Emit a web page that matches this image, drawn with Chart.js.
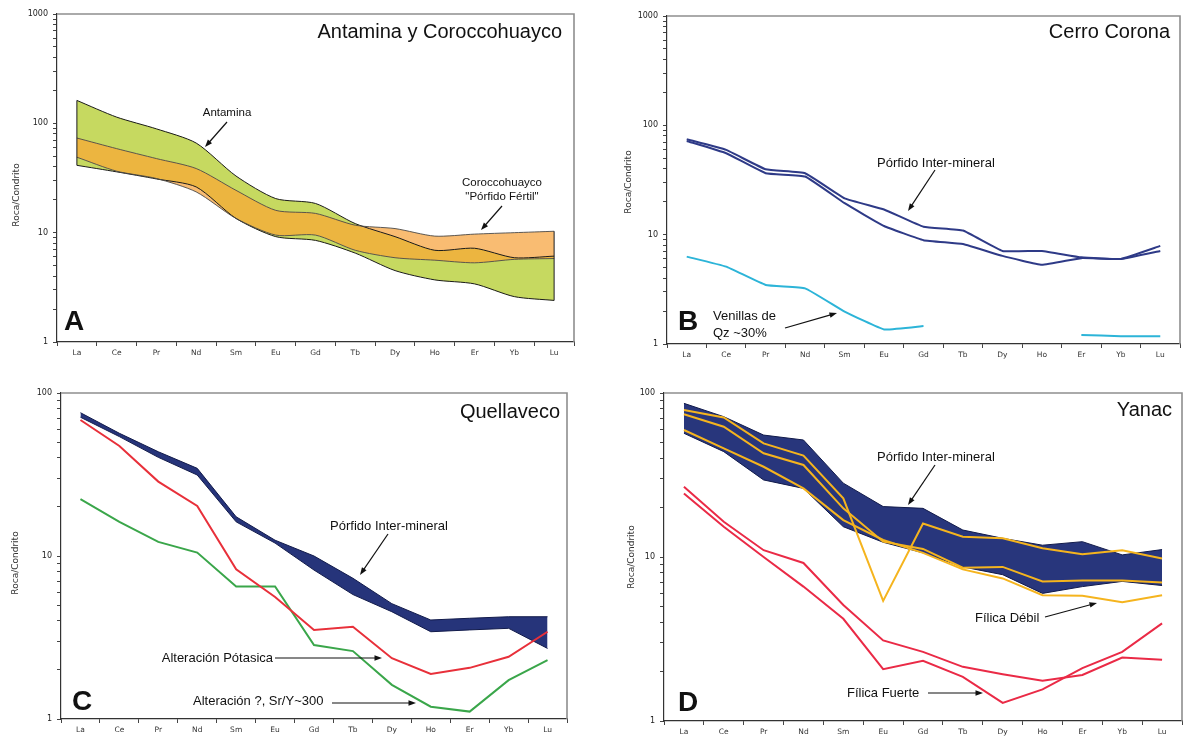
<!DOCTYPE html>
<html>
<head>
<meta charset="utf-8">
<script src="https://cdn.jsdelivr.net/npm/chart.js@4.4.0/dist/chart.umd.min.js"></script>
<style>
  body { margin: 0; background: #fff; width: 1184px; height: 740px; overflow: hidden; position: relative; }
  canvas { position: absolute; }
</style>
</head>
<body>
<canvas id="chart-a" width="590" height="370" style="left:0;top:0"></canvas>
<canvas id="chart-b" width="594" height="370" style="left:590px;top:0"></canvas>
<canvas id="chart-c" width="590" height="370" style="left:0;top:370px"></canvas>
<canvas id="chart-d" width="594" height="370" style="left:590px;top:370px"></canvas>
<script>
const elements = ["La", "Ce", "Pr", "Nd", "Sm", "Eu", "Gd", "Tb", "Dy", "Ho", "Er", "Yb", "Lu"];
const yLabelsAB = [1, 10, 100, 1000];
const yLabelsCD = [1, 10, 100];

// A - Antamina y Coroccohuayco (bandas)
const antaminaMax = [162, 114, 89, 66, 33, 20.5, 18.5, 12.1, 9.2, 6.9, 7.2, 5.9, 6.1];
const antaminaMin = [41.3, 36, 31, 26.2, 13.5, 9.2, 8.5, 6.5, 4.5, 3.7, 3.4, 2.6, 2.4];
const coroccoMax = [73.4, 58.7, 47.6, 38.6, 24.4, 16, 15, 11.7, 10.9, 9.3, 9.7, 10, 10.3];
const coroccoMin = [49, 36.5, 31.3, 23.6, 13.5, 9.5, 9.5, 6.9, 5.9, 5.6, 5.3, 5.7, 5.8];

// B - Cerro Corona
const coronaPorfido1 = [74.6, 59.6, 39.6, 36.5, 21.5, 17, 11.8, 10.9, 7.1, 7.1, 6.2, 6.0, 7.1];
const coronaPorfido2 = [72, 55.6, 36.5, 34, 19.4, 12, 8.9, 8.2, 6.4, 5.3, 6.1, 6.0, 7.9];
const coronaVenillas = [6.3, 5.1, 3.47, 3.23, 1.98, 1.36, 1.46, null, null, null, 1.21, 1.18, 1.18];

// C - Quellaveco
const quePorfidoMax = [75.7, 56.6, 43.6, 34.5, 17.4, 12.5, 10.0, 7.3, 5.1, 4.05, 4.15, 4.24, 4.24];
const quePorfidoMin = [71, 54, 40.3, 31.4, 16.2, 12.0, 8.2, 5.8, 4.55, 3.43, 3.52, 3.6, 2.71];
const quePotasica = [68.3, 47.3, 28.6, 20.3, 8.3, 5.6, 3.52, 3.68, 2.36, 1.89, 2.06, 2.41, 3.43];
const queSrY = [22.3, 16.2, 12.2, 10.5, 6.5, 6.5, 2.84, 2.61, 1.62, 1.19, 1.11, 1.73, 2.3];

// D - Yanac
const yanPorfidoMax = [86.5, 71.7, 55.4, 51.7, 28.2, 20.3, 19.8, 14.6, 13.0, 11.8, 12.4, 10.3, 11.1];
const yanPorfidoMin = [56.8, 43.9, 29.5, 26.2, 15.3, 12.3, 10.6, 8.7, 7.8, 6.0, 6.6, 7.1, 6.7];
const yanDebil1 = [78.8, 71, 49.3, 41.5, 22.8, 5.4, 16.0, 13.3, 13.0, 11.3, 10.4, 11.0, 9.8];
const yanDebil2 = [74.2, 62.3, 42.9, 36.4, 19.8, 12.4, 11.2, 8.6, 8.7, 7.1, 7.2, 7.2, 7.0];
const yanDebil3 = [59.5, 46, 35.5, 26.2, 16.8, 12.7, 10.6, 8.4, 7.4, 5.85, 5.8, 5.3, 5.85];
const yanFuerte1 = [26.8, 16.4, 11.0, 9.2, 5.1, 3.1, 2.64, 2.14, 1.93, 1.76, 1.91, 2.44, 2.36];
const yanFuerte2 = [24.4, 15.3, 10.0, 6.6, 4.2, 2.07, 2.33, 1.86, 1.29, 1.56, 2.1, 2.64, 3.94];

const overlapTop = antaminaMax.map((v, i) => Math.min(v, coroccoMax[i]));
const overlapBottom = antaminaMin.map((v, i) => Math.max(v, coroccoMin[i]));

const SANS = "'Liberation Sans', Arial, sans-serif";
const SMALL = "'DejaVu Sans', sans-serif";

function line(data, color, width, tension = 0) {
  return { data, borderColor: color, borderWidth: width, pointRadius: 0, fill: false, tension };
}

function band(upper, lower, fillColor, edgeColor, edgeWidth, tension = 0) {
  return [
    { data: upper, borderColor: edgeColor, borderWidth: edgeWidth, backgroundColor: fillColor, fill: "+1", pointRadius: 0, tension },
    { data: lower, borderColor: edgeColor, borderWidth: edgeWidth, fill: false, pointRadius: 0, tension },
  ];
}

function axes(yMax, yLabels, yWidth, xHeight) {
  return {
    x: {
      type: "category",
      offset: true,
      grid: { offset: true, drawOnChartArea: false, tickLength: 4, color: "#444" },
      border: { color: "#333", width: 1.2 },
      ticks: { font: { family: SMALL, size: 7.5 }, color: "#333", padding: 3, autoSkip: false, maxRotation: 0 },
      afterFit: (s) => { s.height = xHeight; },
    },
    y: {
      type: "logarithmic",
      min: 1,
      max: yMax,
      grid: { drawOnChartArea: false, tickLength: 4, color: "#444" },
      border: { color: "#333", width: 1.2 },
      ticks: {
        autoSkip: false,
        padding: 5,
        font: { family: SMALL, size: 8 },
        color: "#222",
        callback: (v) => (yLabels.includes(v) ? String(v) : ""),
      },
      afterBuildTicks: (s) => {
        const vals = [];
        for (let d = 1; d < yMax; d *= 10) for (let k = 1; k < 10; k++) vals.push(d * k);
        vals.push(yMax);
        s.ticks = vals.map((value) => ({ value }));
      },
      afterFit: (s) => { s.width = yWidth; },
    },
  };
}

function arrow(ctx, x1, y1, x2, y2) {
  const ang = Math.atan2(y2 - y1, x2 - x1);
  const h = 8;
  ctx.beginPath();
  ctx.moveTo(x1, y1);
  ctx.lineTo(x2 - Math.cos(ang) * 4, y2 - Math.sin(ang) * 4);
  ctx.stroke();
  ctx.beginPath();
  ctx.moveTo(x2, y2);
  ctx.lineTo(x2 - h * Math.cos(ang - 0.35), y2 - h * Math.sin(ang - 0.35));
  ctx.lineTo(x2 - h * Math.cos(ang + 0.35), y2 - h * Math.sin(ang + 0.35));
  ctx.closePath();
  ctx.fill();
}

function decor(cfg) {
  return {
    id: "decor",
    afterDatasetsDraw(chart) {
      // close the ends of the bands with a vertical edge
      if (!cfg.edges) return;
      const ctx = chart.ctx;
      ctx.save();
      ctx.strokeStyle = "#1a1a1a";
      ctx.lineWidth = 1;
      [0, elements.length - 1].forEach((idx) => {
        const pts = cfg.edges.map((i) => chart.getDatasetMeta(i).data[idx]);
        const ys = pts.map((p) => p.y);
        ctx.beginPath();
        ctx.moveTo(pts[0].x, Math.min(...ys));
        ctx.lineTo(pts[0].x, Math.max(...ys));
        ctx.stroke();
      });
      ctx.restore();
    },
    afterDraw(chart) {
      const ctx = chart.ctx;
      const a = chart.chartArea;
      ctx.save();
      ctx.strokeStyle = "#8e8e8e";
      ctx.lineWidth = 1.6;
      ctx.beginPath();
      ctx.moveTo(a.left, a.top);
      ctx.lineTo(a.right, a.top);
      ctx.lineTo(a.right, a.bottom);
      ctx.stroke();

      ctx.fillStyle = "#111";
      ctx.textBaseline = "middle";
      ctx.font = "20px " + SANS;
      ctx.textAlign = "right";
      ctx.fillText(cfg.title[0], cfg.title[1], cfg.title[2]);

      ctx.font = "bold 28px " + SANS;
      ctx.textAlign = "left";
      ctx.fillText(cfg.letter[0], cfg.letter[1], cfg.letter[2]);

      ctx.save();
      ctx.translate(cfg.yTitle[0], cfg.yTitle[1]);
      ctx.rotate(-Math.PI / 2);
      ctx.font = "9px " + SMALL;
      ctx.fillStyle = "#333";
      ctx.textAlign = "center";
      ctx.fillText("Roca/Condrito", 0, 0);
      ctx.restore();

      cfg.notes.forEach(([text, x, y, align, size]) => {
        ctx.font = size + "px " + SANS;
        ctx.textAlign = align;
        ctx.fillStyle = "#111";
        ctx.fillText(text, x, y);
      });

      ctx.strokeStyle = "#111";
      ctx.fillStyle = "#111";
      ctx.lineWidth = 1.2;
      cfg.arrows.forEach(([x1, y1, x2, y2]) => arrow(ctx, x1, y1, x2, y2));
      ctx.restore();
    },
  };
}

function makeChart(id, datasets, scales, padding, cfg) {
  return new Chart(document.getElementById(id), {
    type: "line",
    data: { labels: elements, datasets },
    options: {
      responsive: false,
      animation: false,
      layout: { padding },
      plugins: { legend: { display: false }, tooltip: { enabled: false }, filler: { drawTime: "beforeDatasetsDraw" } },
      scales,
    },
    plugins: [decor(cfg)],
  });
}

// A
makeChart(
  "chart-a",
  [
    ...band(overlapTop, overlapBottom, "#ecb540", "rgba(0,0,0,0)", 1, 0.25),
    ...band(coroccoMax, coroccoMin, "#f9bc72", "#4a4a4a", 0.9, 0.25),
    ...band(antaminaMax, antaminaMin, "#c6d960", "#1a1a1a", 1, 0.25),
  ],
  axes(1000, yLabelsAB, 57, 28),
  { left: 0, top: 14, right: 16, bottom: 0 },
  {
    title: ["Antamina y Coroccohuayco", 562, 32],
    letter: ["A", 64, 322],
    yTitle: [17, 195],
    edges: [2, 3, 4, 5],
    notes: [
      ["Antamina", 227, 113, "center", 11.5],
      ["Coroccohuayco", 502, 183, "center", 11.5],
      ["\"Pórfido Fértil\"", 502, 197, "center", 11.5],
    ],
    arrows: [
      [227, 122, 205, 147],
      [502, 206, 481, 230],
    ],
  }
);

// B
makeChart(
  "chart-b",
  [
    line(coronaPorfido1, "#2e3a87", 2, 0.1),
    line(coronaPorfido2, "#2e3a87", 2, 0.1),
    line(coronaVenillas, "#2cb4d8", 2, 0.1),
  ],
  axes(1000, yLabelsAB, 77, 26),
  { left: 0, top: 16, right: 4, bottom: 0 },
  {
    title: ["Cerro Corona", 580, 32],
    letter: ["B", 88, 322],
    yTitle: [39, 182],
    notes: [
      ["Pórfido Inter-mineral", 287, 163, "left", 13],
      ["Venillas de", 123, 316, "left", 13],
      ["Qz ~30%", 123, 333, "left", 13],
    ],
    arrows: [
      [345, 170, 318, 211],
      [195, 328, 247, 313],
    ],
  }
);

// C
makeChart(
  "chart-c",
  [
    line(quePotasica, "#e8303a", 2),
    line(queSrY, "#3aa64a", 2),
    ...band(quePorfidoMax, quePorfidoMin, "#26347a", "#111a4a", 1),
  ],
  axes(100, yLabelsCD, 61, 21),
  { left: 0, top: 23, right: 23, bottom: 0 },
  {
    title: ["Quellaveco", 560, 42],
    letter: ["C", 72, 332],
    yTitle: [16, 193],
    notes: [
      ["Pórfido Inter-mineral", 389, 156, "center", 13],
      ["Alteración Pótasica", 273, 288, "right", 13],
      ["Alteración ?, Sr/Y~300", 193, 331, "left", 13],
    ],
    arrows: [
      [388, 164, 360, 205],
      [275, 288, 382, 288],
      [332, 333, 416, 333],
    ],
  }
);

// D
makeChart(
  "chart-d",
  [
    line(yanDebil1, "#f5b41e", 2),
    line(yanDebil2, "#f5b41e", 2),
    line(yanDebil3, "#f5b41e", 2),
    line(yanFuerte1, "#ea2a46", 2),
    line(yanFuerte2, "#ea2a46", 2),
    ...band(yanPorfidoMax, yanPorfidoMin, "#28367c", "#111a4a", 1),
  ],
  axes(100, yLabelsCD, 74, 19),
  { left: 0, top: 23, right: 2, bottom: 0 },
  {
    title: ["Yanac", 582, 40],
    letter: ["D", 88, 333],
    yTitle: [42, 187],
    notes: [
      ["Pórfido Inter-mineral", 287, 87, "left", 13],
      ["Fílica Débil", 385, 248, "left", 13],
      ["Fílica Fuerte", 257, 323, "left", 13],
    ],
    arrows: [
      [345, 95, 318, 135],
      [455, 247, 507, 233],
      [338, 323, 393, 323],
    ],
  }
);
</script>
</body>
</html>
